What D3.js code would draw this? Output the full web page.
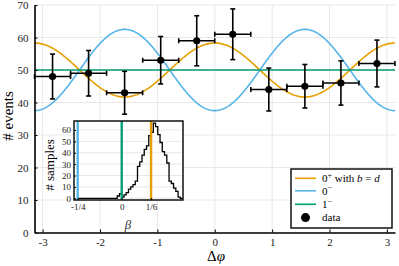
<!DOCTYPE html>
<html>
<head>
<meta charset="utf-8">
<script src="https://cdn.jsdelivr.net/npm/d3@7"></script>
<style>
  body { margin: 0; background: #fff; }
  svg { display: block; font-family: "Liberation Serif", serif; }
</style>
</head>
<body>
<div class="graphic"></div>
<script>
// main panel: events per bin of delta phi
const binCenters = [-2.827, -2.199, -1.571, -0.942, -0.314, 0.314, 0.942, 1.571, 2.199, 2.827];
const binHalfWidth = 0.314;
const events = [48, 49, 43, 53, 59, 61, 44, 45, 46, 52];
const eventErrors = [6.9, 7.0, 6.6, 7.3, 7.7, 7.8, 6.6, 6.7, 6.8, 7.2];

// model curves: mean + amp * cos(2 dphi)
const modelNames = ['0+', '0-', '1-'];
const modelMean = 50;
const modelAmps = [8.3, -12.5, 0];
const modelColors = ['#E69F00', '#56B4E9', '#009E73'];

const xTicks = [-3, -2, -1, 0, 1, 2, 3];
const yTicks = [0, 10, 20, 30, 40, 50, 60, 70];

// inset: posterior samples of beta
const histStart = -0.0256;
const histWidth = 0.0128;
const histCounts = [2, 4, 1, 3, 5, 8, 10, 12, 15, 28, 32, 38, 43, 46, 55, 58, 66, 63, 56, 49, 41, 38, 31, 15, 13, 9, 6, 1, 0];
const histFloorStart = -0.25;
const betaMarks = [-1 / 4, 0, 1 / 6];
const betaMarkColors = ['#56B4E9', '#009E73', '#E69F00'];
const betaTicks = [-1 / 4, 0, 1 / 6];
const betaTickLabels = ['-1/4', '0', '1/6'];
const sampleTicks = [0, 10, 20, 30, 40, 50, 60];

const W = 399, H = 266;
const gridColor = '#e8e8e8';

const svg = d3.select('.graphic')
  .append('svg')
  .attr('width', W)
  .attr('height', H);

const x = d3.scaleLinear().domain([-Math.PI, Math.PI]).range([34.5, 395]);
const y = d3.scaleLinear().domain([0, 70]).range([232.5, 5]);

// grid
svg.append('g')
  .selectAll('line')
  .data(xTicks)
  .enter()
  .append('line')
  .attr('x1', d => x(d)).attr('x2', d => x(d))
  .attr('y1', y(0)).attr('y2', y(70))
  .attr('stroke', gridColor);

svg.append('g')
  .selectAll('line')
  .data(yTicks)
  .enter()
  .append('line')
  .attr('x1', x.range()[0]).attr('x2', x.range()[1])
  .attr('y1', d => y(d)).attr('y2', d => y(d))
  .attr('stroke', gridColor);

// model curves
const phiSamples = d3.range(0, 301).map(i => -Math.PI + (2 * Math.PI * i) / 300);
const curve = d3.line().x(d => x(d[0])).y(d => y(d[1]));

modelAmps.forEach((amp, k) => {
  svg.append('path')
    .datum(phiSamples.map(p => [p, modelMean + amp * Math.cos(2 * p)]))
    .attr('d', curve)
    .attr('fill', 'none')
    .attr('stroke', modelColors[k])
    .attr('stroke-width', 1.6);
});

// data points with error bars
const pts = binCenters.map((c, i) => ({ c, n: events[i], e: eventErrors[i] }));
const eb = svg.append('g').attr('stroke', '#000').attr('stroke-width', 1.6);

pts.forEach(d => {
  eb.append('line')
    .attr('x1', x(d.c)).attr('x2', x(d.c))
    .attr('y1', y(d.n - d.e)).attr('y2', y(d.n + d.e));
  [d.n - d.e, d.n + d.e].forEach(v => {
    eb.append('line')
      .attr('x1', x(d.c) - 2.5).attr('x2', x(d.c) + 2.5)
      .attr('y1', y(v)).attr('y2', y(v));
  });
  eb.append('line')
    .attr('x1', x(d.c - binHalfWidth)).attr('x2', x(d.c + binHalfWidth))
    .attr('y1', y(d.n)).attr('y2', y(d.n));
  [d.c - binHalfWidth, d.c + binHalfWidth].forEach(v => {
    eb.append('line')
      .attr('x1', x(v)).attr('x2', x(v))
      .attr('y1', y(d.n) - 2.5).attr('y2', y(d.n) + 2.5);
  });
});

svg.selectAll('circle.pt')
  .data(pts)
  .enter()
  .append('circle')
  .attr('class', 'pt')
  .attr('cx', d => x(d.c))
  .attr('cy', d => y(d.n))
  .attr('r', 3.6)
  .attr('fill', '#000');

// axes
const xAxis = svg.append('g')
  .attr('transform', `translate(0,${y(0)})`)
  .call(d3.axisBottom(x).tickValues(xTicks).tickSizeInner(-3).tickSizeOuter(0).tickPadding(6).tickFormat(d => String(d)));
const yAxis = svg.append('g')
  .attr('transform', `translate(${x.range()[0]},0)`)
  .call(d3.axisLeft(y).tickValues(yTicks).tickSizeInner(-3).tickSizeOuter(0).tickPadding(6));

[xAxis, yAxis].forEach(a => {
  a.select('.domain').attr('stroke', '#000').attr('stroke-width', 1.6);
  a.selectAll('.tick line').attr('stroke', '#000');
  a.selectAll('.tick text').attr('font-family', 'Liberation Serif').attr('font-size', 11).attr('fill', '#222');
});

const xl = svg.append('text')
  .attr('x', 216).attr('y', 261)
  .attr('text-anchor', 'middle')
  .attr('font-size', 15);
xl.append('tspan').text('Δ');
xl.append('tspan').attr('font-style', 'italic').text('φ');

svg.append('text')
  .attr('transform', 'translate(13,116) rotate(-90)')
  .attr('text-anchor', 'middle')
  .attr('font-size', 15)
  .text('# events');

// inset
const ix = d3.scaleLinear().domain([-0.271, 0.348]).range([74, 183]);
const iy = d3.scaleLinear().domain([-1.5, 67.9]).range([200, 121]);
const inset = svg.append('g');

inset.append('rect')
  .attr('x', 74).attr('y', 121).attr('width', 109).attr('height', 79)
  .attr('fill', '#fff');

inset.append('g')
  .selectAll('line')
  .data(sampleTicks)
  .enter()
  .append('line')
  .attr('x1', 74).attr('x2', 183)
  .attr('y1', d => iy(d)).attr('y2', d => iy(d))
  .attr('stroke', gridColor);

inset.append('g')
  .selectAll('line')
  .data(betaTicks)
  .enter()
  .append('line')
  .attr('x1', d => ix(d)).attr('x2', d => ix(d))
  .attr('y1', 121).attr('y2', 200)
  .attr('stroke', gridColor);

svg.append('clipPath').attr('id', 'inset-clip')
  .append('rect').attr('x', 74).attr('y', 121).attr('width', 109).attr('height', 79);

const histPts = [[histFloorStart, 0]]
  .concat(histCounts.map((c, i) => [histStart + i * histWidth, c]))
  .concat([[histStart + histCounts.length * histWidth, histCounts[histCounts.length - 1]]]);

inset.append('path')
  .datum(histPts)
  .attr('clip-path', 'url(#inset-clip)')
  .attr('d', d3.line().x(d => ix(d[0])).y(d => iy(d[1])).curve(d3.curveStepAfter))
  .attr('fill', 'none')
  .attr('stroke', '#000')
  .attr('stroke-width', 1.3);

inset.selectAll('line.beta')
  .data(betaMarks)
  .enter()
  .append('line')
  .attr('class', 'beta')
  .attr('x1', d => ix(d)).attr('x2', d => ix(d))
  .attr('y1', 121).attr('y2', 200)
  .attr('stroke', (d, i) => betaMarkColors[i])
  .attr('stroke-width', 2.4);

const ixAxis = inset.append('g')
  .attr('transform', 'translate(0,200)')
  .call(d3.axisBottom(ix).tickValues(betaTicks).tickSizeInner(-2).tickSizeOuter(0).tickPadding(4)
    .tickFormat((d, i) => betaTickLabels[i]));
const iyAxis = inset.append('g')
  .attr('transform', 'translate(74,0)')
  .call(d3.axisLeft(iy).tickValues(sampleTicks).tickSizeInner(-2).tickSizeOuter(0).tickPadding(3));

[ixAxis, iyAxis].forEach(a => {
  a.select('.domain').remove();
  a.selectAll('.tick line').attr('stroke', '#000');
  a.selectAll('.tick text').attr('font-family', 'Liberation Serif').attr('font-size', 9).attr('fill', '#222');
});

inset.append('rect')
  .attr('x', 74).attr('y', 121).attr('width', 109).attr('height', 79)
  .attr('fill', 'none')
  .attr('stroke', '#000')
  .attr('stroke-width', 1.4);

inset.append('text')
  .attr('x', 128).attr('y', 229)
  .attr('text-anchor', 'middle')
  .attr('font-size', 13)
  .attr('font-style', 'italic')
  .attr('fill', '#333')
  .text('β');

inset.append('text')
  .attr('transform', 'translate(54,165) rotate(-90)')
  .attr('text-anchor', 'middle')
  .attr('font-size', 13)
  .text('# samples');

// legend
const legend = svg.append('g');
legend.append('rect')
  .attr('x', 291).attr('y', 169).attr('width', 101).attr('height', 59)
  .attr('fill', '#fff')
  .attr('stroke', '#000')
  .attr('stroke-width', 1.4);

const rowY = [178.3, 190.8, 204.3, 217.6];

modelColors.forEach((c, i) => {
  legend.append('line')
    .attr('x1', 295).attr('x2', 316)
    .attr('y1', rowY[i]).attr('y2', rowY[i])
    .attr('stroke', c)
    .attr('stroke-width', 1.6);
});

legend.append('circle')
  .attr('cx', 305.5).attr('cy', rowY[3]).attr('r', 4.5).attr('fill', '#000');

const labels = legend.selectAll('text')
  .data(rowY)
  .enter()
  .append('text')
  .attr('x', 322)
  .attr('y', d => d + 3.8)
  .attr('font-size', 11);

labels.each(function (d, i) {
  const t = d3.select(this);
  if (i < 3) {
    const s = modelNames[i];
    t.append('tspan').text(s[0]);
    t.append('tspan').attr('font-size', 8).attr('dy', -4.5).text(s[1] === '+' ? '+' : '\u2212');
  }
  if (i === 0) {
    t.append('tspan').attr('dy', 4.5).text('  with ');
    t.append('tspan').attr('font-style', 'italic').text('b');
    t.append('tspan').text(' = ');
    t.append('tspan').attr('font-style', 'italic').text('d');
  }
  if (i === 3) t.text('data');
});
</script>
</body>
</html>
